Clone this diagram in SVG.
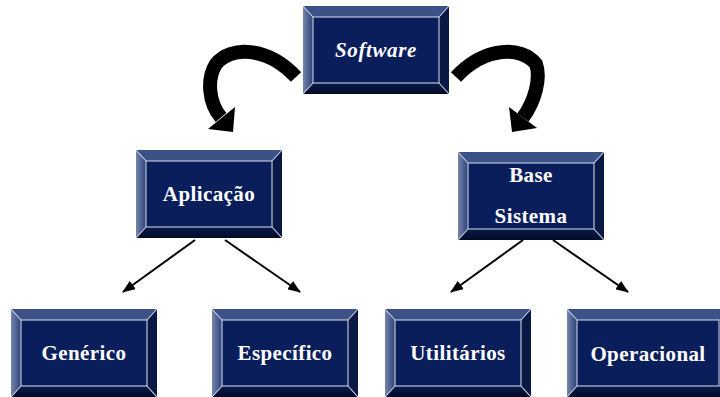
<svg xmlns="http://www.w3.org/2000/svg" xmlns:xlink="http://www.w3.org/1999/xlink" width="720" height="397" viewBox="0 0 720 397">
  <style>
    .lbl { font-family: "Liberation Serif", "Times New Roman", serif; font-weight: bold; font-size: 21px; letter-spacing: 0.4px; fill: #ffffff; text-anchor: middle; }
    .it { font-style: italic; letter-spacing: 0.6px; }
    .top { fill: #3c5185; }
    .left { fill: url(#gLeft); }
    .right { fill: #0a1846; }
    .bot { fill: url(#gBot); }
    .face { fill: #0b1e5c; }
    .hl { fill: none; stroke: #c9d0e2; stroke-width: 1.1; }
    .ln { stroke: #000000; stroke-width: 2; fill: none; marker-end: url(#ah); }
    .curve { stroke: #000000; stroke-width: 14; fill: none; }
  </style>
  <defs>
    <linearGradient id="gLeft" x1="0" y1="0" x2="1" y2="0">
      <stop offset="0" stop-color="#7585ab"/>
      <stop offset="1" stop-color="#2d4177"/>
    </linearGradient>
    <linearGradient id="gBot" x1="0" y1="0" x2="0" y2="1">
      <stop offset="0" stop-color="#0a1a4c"/>
      <stop offset="1" stop-color="#020a26"/>
    </linearGradient>
    <marker id="ah" viewBox="0 0 13 10" refX="12" refY="5" markerWidth="13" markerHeight="10" markerUnits="userSpaceOnUse" orient="auto">
      <path d="M0,0 L13,5 L0,10 Z" fill="#000000"/>
    </marker>
    <g id="box">
      <path class="top" d="M0,0 H146 L136,11 H10 Z"/>
      <path class="left" d="M0,0 L10,11 V77 L0,88 Z"/>
      <path class="right" d="M146,0 V88 L136,77 V11 Z"/>
      <path class="bot" d="M0,88 L10,77 H136 L146,88 Z"/>
      <rect class="face" x="10" y="11" width="126" height="66"/>
      <rect class="hl" x="10" y="11" width="126" height="66"/>
      <path class="hl" d="M0,0 L10,11 M146,0 L136,11 M0,88 L10,77 M146,88 L136,77"/>
    </g>
  </defs>

  <g id="connectors">
    <path class="curve" d="M296,77 C267,46 230,46 216,64 C207,78 208,102 221,117.5"/>
    <polygon points="208,129 235,107 233,132" fill="#000000"/>
    <path class="curve" d="M456,77 C485,46 522,46 536,64 C541,78 535,101 523,117.5"/>
    <polygon points="509,107 537,128 512,132" fill="#000000"/>
    <line class="ln" x1="195" y1="240" x2="123" y2="292"/>
    <line class="ln" x1="225" y1="240" x2="300" y2="292"/>
    <line class="ln" x1="523" y1="240" x2="451" y2="292"/>
    <line class="ln" x1="553" y1="240" x2="628" y2="292"/>
  </g>

  <g id="software">
    <use xlink:href="#box" x="303" y="6"/>
    <text class="lbl it" x="376" y="57">Software</text>
  </g>
  <g id="aplicacao">
    <use xlink:href="#box" x="136" y="150"/>
    <text class="lbl" x="209" y="201">Aplicação</text>
  </g>
  <g id="base-sistema">
    <use xlink:href="#box" x="458" y="152"/>
    <text class="lbl" x="531" y="182">Base</text>
    <text class="lbl" x="531" y="223">Sistema</text>
  </g>
  <g id="generico">
    <use xlink:href="#box" x="11" y="309"/>
    <text class="lbl" x="84" y="360">Genérico</text>
  </g>
  <g id="especifico">
    <use xlink:href="#box" x="212" y="309"/>
    <text class="lbl" x="285" y="360">Específico</text>
  </g>
  <g id="utilitarios">
    <use xlink:href="#box" x="385" y="309"/>
    <text class="lbl" x="458" y="360">Utilitários</text>
  </g>
  <g id="operacional">
    <path class="top" d="M567,309 H729 L719,320 H577 Z"/>
    <path class="left" d="M567,309 L577,320 V386 L567,397 Z"/>
    <path class="right" d="M729,309 V397 L719,386 V320 Z"/>
    <path class="bot" d="M567,397 L577,386 H719 L729,397 Z"/>
    <rect class="face" x="577" y="320" width="142" height="66"/>
    <rect class="hl" x="577" y="320" width="142" height="66"/>
    <path class="hl" d="M567,309 L577,320 M567,397 L577,386"/>
    <text class="lbl" x="648" y="361">Operacional</text>
  </g>
</svg>
